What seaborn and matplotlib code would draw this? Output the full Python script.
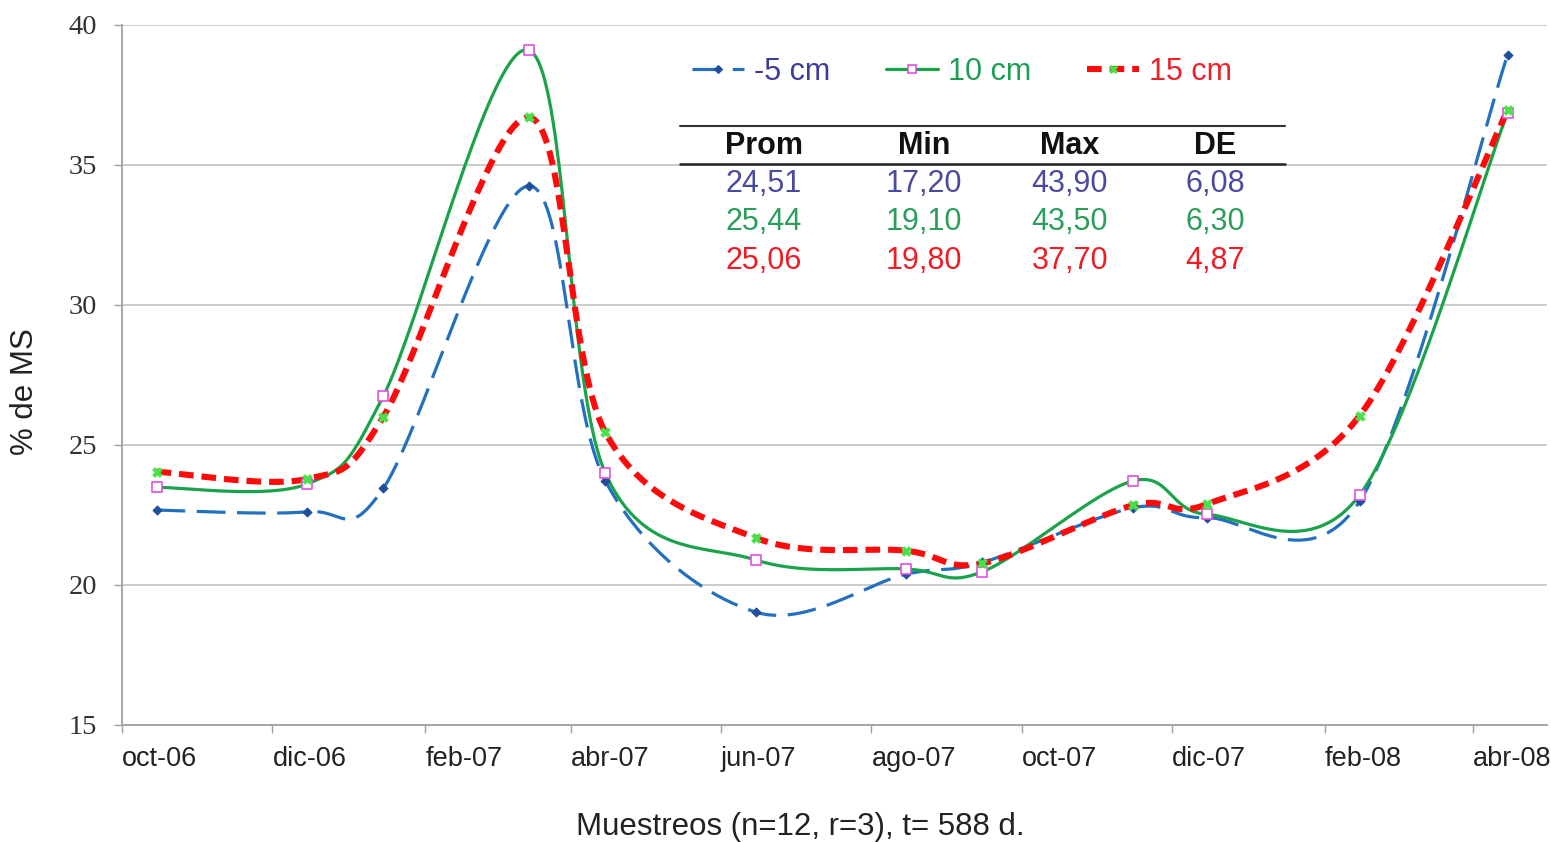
import numpy as np
import pandas as pd
import matplotlib
matplotlib.use("Agg")
import matplotlib.pyplot as plt
import matplotlib.dates as mdates
from matplotlib.lines import Line2D
import seaborn as sns

# ---------------- data ----------------
sample_dates = ["2006-10-15", "2006-12-15", "2007-01-15", "2007-03-15",
                "2007-04-15", "2007-06-15", "2007-08-15", "2007-09-15",
                "2007-11-15", "2007-12-15", "2008-02-15", "2008-04-15"]
series_names = ["-5 cm", "10 cm", "15 cm"]
cm5 = [22.67, 22.61, 23.45, 34.24, 23.72, 19.03, 20.38, 20.80, 22.75, 22.40, 22.98, 38.92]
cm10 = [23.48, 23.60, 26.74, 39.09, 24.00, 20.89, 20.57, 20.47, 23.71, 22.52, 23.21, 36.85]
cm15 = [24.04, 23.78, 26.00, 36.69, 25.45, 21.68, 21.22, 20.77, 22.84, 22.88, 26.04, 36.94]

tick_dates = ["2006-10-01", "2006-12-01", "2007-02-01", "2007-04-01", "2007-06-01",
              "2007-08-01", "2007-10-01", "2007-12-01", "2008-02-01", "2008-04-01"]
tick_labels = ["oct-06", "dic-06", "feb-07", "abr-07", "jun-07",
               "ago-07", "oct-07", "dic-07", "feb-08", "abr-08"]
x_limits = ["2006-10-01", "2008-05-01"]

table_header = ["Prom", "Min", "Max", "DE"]
table_rows = [["24,51", "17,20", "43,90", "6,08"],
              ["25,44", "19,10", "43,50", "6,30"],
              ["25,06", "19,80", "37,70", "4,87"]]

# ---------------- helpers ----------------
def excel_smooth(x, y, n=40):
    pts = np.column_stack([x, y]).astype(float)
    P = np.vstack([pts[0], pts, pts[-1]])
    out = []
    for i in range(1, len(P) - 2):
        p0, p1, p2, p3 = P[i - 1], P[i], P[i + 1], P[i + 2]
        c1 = p1 + (p2 - p0) / 6.0
        c2 = p2 - (p3 - p1) / 6.0
        t = np.linspace(0, 1, n, endpoint=(i == len(P) - 3))[:, None]
        B = ((1 - t) ** 3) * p1 + 3 * ((1 - t) ** 2) * t * c1 + 3 * (1 - t) * t ** 2 * c2 + t ** 3 * p2
        out.append(B)
    out = np.vstack(out)
    return out[:, 0], out[:, 1]

W, H = 1551, 842
def fx(x):
    return x / W
def fy(y):
    return 1 - y / H

# ---------------- styling ----------------
sns.set_style("white")
plt.rcParams["font.family"] = ["Liberation Sans", "DejaVu Sans"]

fig = plt.figure(figsize=(W / 100, H / 100), dpi=100)
ax_left, ax_right, ax_top, ax_bottom = 122, 1547, 24.5, 725
ax = fig.add_axes([fx(ax_left), fy(ax_bottom), fx(ax_right) - fx(ax_left), fy(ax_top) - fy(ax_bottom)])

xnum = mdates.date2num(pd.to_datetime(sample_dates))

styles = {
    "-5 cm": dict(color="#2370BE", lw=2.3, ls=(0, (9, 3.6)), marker="D", ms=4.5,
                  mfc="#1F4E9A", mec="#1F4E9A", mew=0.8),
    "10 cm": dict(color="#1BA34B", lw=2.3, ls="-", marker="s", ms=7,
                  mfc="white", mec="#E050E0", mew=1.2),
    "15 cm": dict(color="#FF0A0A", lw=4.4, ls=(0, (2.4, 1.3)), marker="X", ms=7,
                  mfc="#4AE04A", mec="#4AE04A", mew=0.5),
}
values = {"-5 cm": cm5, "10 cm": cm10, "15 cm": cm15}
zorders = {"-5 cm": 3, "10 cm": 4, "15 cm": 5}

for name in series_names:
    st = styles[name]
    sx, sy = excel_smooth(xnum, values[name])
    df = pd.DataFrame({"x": sx, "y": sy})
    sns.lineplot(data=df, x="x", y="y", ax=ax, estimator=None, sort=False,
                 color=st["color"], linewidth=st["lw"], linestyle=st["ls"],
                 zorder=zorders[name])
    dp = pd.DataFrame({"x": xnum, "y": values[name]})
    sns.scatterplot(data=dp, x="x", y="y", ax=ax, marker=st["marker"],
                    s=st["ms"] ** 2, color=st["mfc"], edgecolor=st["mec"],
                    linewidth=st["mew"], zorder=zorders[name] + 3)

ax.set_xlim(mdates.date2num(pd.to_datetime(x_limits)))
ax.set_ylim(15, 40)
ax.set_yticks([15, 20, 25, 30, 35, 40])
ax.set_xticks(mdates.date2num(pd.to_datetime(tick_dates)))
ax.set_xticklabels(tick_labels, ha="left")
for lab in ax.get_xticklabels():
    lab.set_fontsize(19.5)
    lab.set_color("#222222")
for lab in ax.get_yticklabels():
    lab.set_fontfamily(["Liberation Serif", "DejaVu Serif"])
    lab.set_fontsize(20.5)
    lab.set_color("#333333")

ax.grid(axis="y", color="#C8C8C8", linewidth=1.3)
ax.grid(axis="x", visible=False)
ax.set_axisbelow(True)
for s in ["top", "right"]:
    ax.spines[s].set_visible(False)
for s in ["left", "bottom"]:
    ax.spines[s].set_color("#A0A0A0")
    ax.spines[s].set_linewidth(1.3)
ax.tick_params(axis="x", direction="out", length=6, width=1, color="#A0A0A0", pad=9,
               bottom=True)
ax.tick_params(axis="y", direction="out", length=6, width=1, color="#A0A0A0", pad=12,
               left=True)

ax.set_xlabel("Muestreos (n=12, r=3), t= 588 d.", fontsize=22.5, color="#222222")
ax.set_ylabel("% de MS", fontsize=22.5, color="#222222")
ax.xaxis.set_label_coords((800 - ax_left) / (ax_right - ax_left), (ax_bottom - 812) / (ax_bottom - ax_top))
ax.yaxis.set_label_coords((40 - ax_left) / (ax_right - ax_left), (ax_bottom - 392) / (ax_bottom - ax_top))

# ---------------- legend ----------------
handles = []
for name in series_names:
    st = styles[name]
    handles.append(Line2D([0], [0], color=st["color"], lw=st["lw"], ls=st["ls"],
                          marker=st["marker"], ms=st["ms"] * 0.9, mfc=st["mfc"],
                          mec=st["mec"], mew=st["mew"]))
leg = fig.legend(handles, series_names, loc="center", bbox_to_anchor=(fx(962), fy(72)),
                 ncol=3, frameon=False, fontsize=22, handlelength=1.7,
                 handletextpad=0.35, columnspacing=1.8,
                 labelcolor=["#3C3C9C", "#1E9E55", "#F0202A"])

# ---------------- table ----------------
fig.add_artist(Line2D([fx(680), fx(1285)], [fy(126), fy(126)], color="#333333", lw=1.5))
fig.add_artist(Line2D([fx(680), fx(1285)], [fy(164), fy(164)], color="#222222", lw=1.8))
col_x = [764, 924, 1070, 1215]
row_colors = ["#4A4A9E", "#2A9E5A", "#EE1C25"]
for cx, h in zip(col_x, table_header):
    fig.text(fx(cx), fy(146), h, ha="center", va="center", fontsize=22,
             fontweight="bold", color="#111111")
for r, (row, colr) in enumerate(zip(table_rows, row_colors)):
    for cx, v in zip(col_x, row):
        fig.text(fx(cx), fy(184 + 38.5 * r), v, ha="center", va="center",
                 fontsize=22, color=colr)

fig.savefig("out.png", dpi=100)
